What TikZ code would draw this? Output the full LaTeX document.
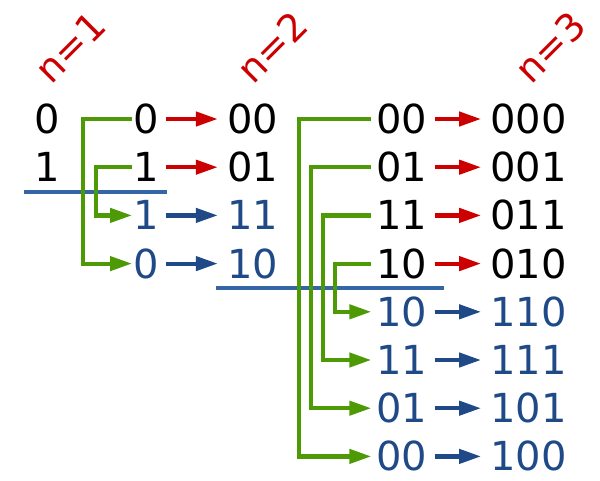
\documentclass[tikz,border=0pt]{standalone}
\usepackage{fontspec}
\setmainfont{DejaVu Sans}
\usetikzlibrary{arrows.meta}
\definecolor{gred}{HTML}{CC0000}
\definecolor{ggreen}{HTML}{4E9A06}
\definecolor{gblue}{HTML}{204A87}
\definecolor{gsep}{HTML}{3465A4}
\tikzset{
  num/.style={inner sep=0pt, font=\fontsize{40}{48}\selectfont},
  blk/.style={num, text=black},
  blu/.style={num, text=gblue},
  lab/.style={inner sep=0pt, text=gred, rotate=45, font=\fontsize{38}{44}\selectfont},
  tip/.style={-{Triangle[length=22pt,width=14pt]}},
  redarr/.style={tip, draw=gred, fill=gred, line width=4.2pt, shorten <=7pt, shorten >=9pt},
  bluarr/.style={tip, draw=gblue, fill=gblue, line width=4.2pt, shorten <=7pt, shorten >=9pt},
  refl/.style={tip, draw=ggreen, line width=4.2pt},
  sep/.style={draw=gsep, line width=4pt},
}
\begin{document}
\begin{tikzpicture}[x=1pt,y=-1pt]
\useasboundingbox[fill=white] (0,0) rectangle (600,480);
% labels
\node[lab] (l1) at (70,47) {n=1};
\node[lab] (l2) at (272,47) {n=2};
\node[lab] (l3) at (550,47) {n=3};
% column 0
\node[blk] (a1) at (47,119) {0};
\node[blk] (a2) at (47,167.2) {1};
% column 1
\node[blk] (b1) at (146,119) {0};
\node[blk] (b2) at (146,167.2) {1};
\node[blu] (b3) at (146,215.4) {1};
\node[blu] (b4) at (146,263.6) {0};
% column 2
\node[blk] (c1) at (252.5,119) {00};
\node[blk] (c2) at (252.5,167.2) {01};
\node[blu] (c3) at (252.5,215.4) {11};
\node[blu] (c4) at (252.5,263.6) {10};
% column 3
\node[blk] (d1) at (402,119) {00};
\node[blk] (d2) at (402,167.2) {01};
\node[blk] (d3) at (402,215.4) {11};
\node[blk] (d4) at (402,263.6) {10};
\node[blu] (d5) at (402,311.8) {10};
\node[blu] (d6) at (402,360) {11};
\node[blu] (d7) at (402,408.2) {01};
\node[blu] (d8) at (402,456.4) {00};
% column 4
\node[blk] (e1) at (528.5,119) {000};
\node[blk] (e2) at (528.5,167.2) {001};
\node[blk] (e3) at (528.5,215.4) {011};
\node[blk] (e4) at (528.5,263.6) {010};
\node[blu] (e5) at (528.5,311.8) {110};
\node[blu] (e6) at (528.5,360) {111};
\node[blu] (e7) at (528.5,408.2) {101};
\node[blu] (e8) at (528.5,456.4) {100};
% separators
\draw[sep] (24,191.5) -- (167,191.5);
\draw[sep] (216,288) -- (444,288);
% reflections n=1
\draw[refl] ([xshift=-1pt]b1.west) -- ([xshift=-50pt]b1.west) |- ([xshift=-1pt]b4.west);
\draw[refl] ([xshift=-1pt]b2.west) -- ([xshift=-37pt]b2.west) |- ([xshift=-1pt]b3.west);
% reflections n=2
\draw[refl] ([xshift=-5pt]d1.west) -- ([xshift=-77pt]d1.west) |- ([xshift=-5pt]d8.west);
\draw[refl] ([xshift=-5pt]d2.west) -- ([xshift=-65pt]d2.west) |- ([xshift=-5pt]d7.west);
\draw[refl] ([xshift=-5pt]d3.west) -- ([xshift=-53pt]d3.west) |- ([xshift=-5pt]d6.west);
\draw[refl] ([xshift=-5pt]d4.west) -- ([xshift=-41pt]d4.west) |- ([xshift=-5pt]d5.west);
% prefix arrows
\draw[redarr] (b1.east) -- (c1.west);
\draw[redarr] (b2.east) -- (c2.west);
\draw[bluarr] (b3.east) -- (c3.west);
\draw[bluarr] (b4.east) -- (c4.west);
\draw[redarr] (d1.east) -- (e1.west);
\draw[redarr] (d2.east) -- (e2.west);
\draw[redarr] (d3.east) -- (e3.west);
\draw[redarr] (d4.east) -- (e4.west);
\draw[bluarr] (d5.east) -- (e5.west);
\draw[bluarr] (d6.east) -- (e6.west);
\draw[bluarr] (d7.east) -- (e7.west);
\draw[bluarr] (d8.east) -- (e8.west);
\end{tikzpicture}
\end{document}
